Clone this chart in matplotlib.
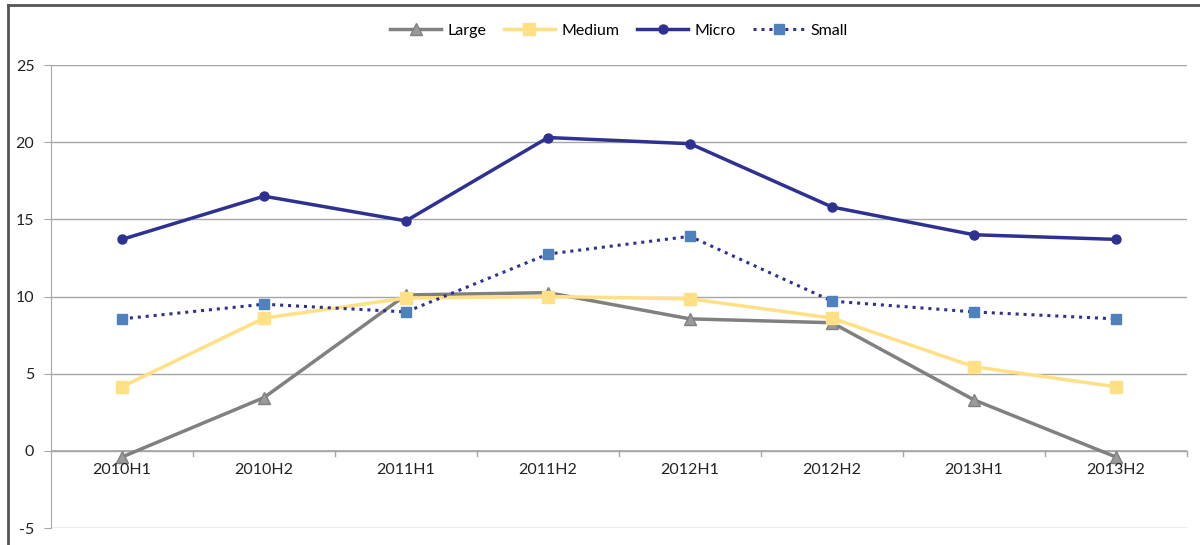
import matplotlib
matplotlib.use("Agg")
import matplotlib.pyplot as plt
from matplotlib.lines import Line2D
import numpy as np

categories = ["2010H1", "2010H2", "2011H1", "2011H2", "2012H1", "2012H2", "2013H1", "2013H2"]
large = [-0.4, 3.45, 10.1, 10.25, 8.55, 8.3, 3.3, -0.4]
medium = [4.15, 8.6, 9.9, 10.0, 9.85, 8.6, 5.45, 4.15]
micro = [13.7, 16.5, 14.9, 20.3, 19.9, 15.8, 14.0, 13.7]
small = [8.55, 9.5, 9.0, 12.75, 13.9, 9.7, 9.0, 8.55]
yticks = [-5, 0, 5, 10, 15, 20, 25]

plt.rcParams['font.family'] = ['Lato', 'DejaVu Sans']
fig = plt.figure(figsize=(12, 5.45), dpi=100)
ax = fig.add_axes([51/1200, 1 - 528/545, (1187-51)/1200, (528-65)/545])

x = np.arange(len(categories))
ax.plot(x, large, color='#808080', lw=2.5, marker='^', ms=9, mfc='#9a9a9a', mec='#808080', label='Large', zorder=3)
ax.plot(x, medium, color='#FFE084', lw=2.5, marker='s', ms=9, mfc='#FFE084', mec='#FFE084', label='Medium', zorder=3)
ax.plot(x, micro, color='#2E3192', lw=2.5, marker='o', ms=6.5, mfc='#2E3192', mec='#2E3192', label='Micro', zorder=4)
ax.plot(x, small, color='#2E3192', lw=2.2, ls=(0, (1, 1.6)), marker='s', ms=6.5, mfc='#4F81BD', mec='#4F81BD', label='Small', zorder=4)

ax.set_xlim(-0.5, len(categories) - 0.5)
ax.set_ylim(-5, 25)
ax.set_yticks(yticks)
ax.set_yticklabels([str(v) for v in yticks], fontsize=11.5, color='#222222')
ax.grid(axis='y', color='#a6a6a6', lw=1)
ax.set_axisbelow(True)
for s in ['top', 'right', 'bottom']:
    ax.spines[s].set_visible(False)
ax.spines['left'].set_color('#a6a6a6')
ax.tick_params(axis='y', length=5, color='#a6a6a6', pad=7)
ax.set_xticks([])
# category axis at y=0
ax.axhline(0, color='#a6a6a6', lw=1.2, zorder=1)
for b in np.arange(0.5, len(categories) - 0.5 + 1, 1):
    ax.plot([b, b], [0, -0.35], color='#a6a6a6', lw=1, clip_on=False, zorder=1)
for i, c in enumerate(categories):
    ax.text(i, -0.8, c, ha='center', va='top', fontsize=11.5, color='#222222')

ax.legend(loc='upper center', bbox_to_anchor=(0.5, 1 + 56/463), ncol=4, frameon=False,
          fontsize=11.5, handlelength=3.2, columnspacing=1.1, handletextpad=0.4)

# outer frame lines (top and left)
fig.add_artist(Line2D([8/1200, 1], [1 - 5/545, 1 - 5/545], transform=fig.transFigure, color='#555555', lw=2))
fig.add_artist(Line2D([8/1200, 8/1200], [0, 1 - 5/545], transform=fig.transFigure, color='#555555', lw=2))

fig.savefig("out.png", dpi=100)
